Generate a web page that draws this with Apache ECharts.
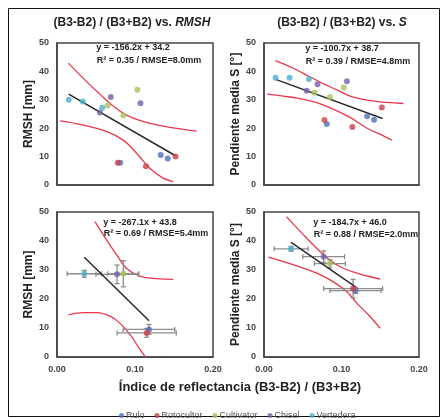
<!DOCTYPE html>
<html><head><meta charset="utf-8">
<script src="https://cdn.jsdelivr.net/npm/echarts@6/dist/echarts.min.js"></script>
<style>html,body{margin:0;padding:0;background:#fff}#c{width:444px;height:420px}</style>
</head><body><div id="c"></div>
<script>
// ---------- data ----------
const treatments = ['Rulo', 'Rotocultor', 'Cultivator', 'Chisel', 'Vertedera'];
const colors = ['#4F6FBD', '#C8404A', '#A7C05A', '#7E5FA8', '#4BB0CC'];

// index (B3-B2)/(B3+B2) of each plot, per treatment
const idxRulo = [0.081, 0.133, 0.142];
const idxRotocultor = [0.078, 0.114, 0.152];
const idxCultivator = [0.065, 0.085, 0.103];
const idxChisel = [0.055, 0.069, 0.107];
const idxVertedera = [0.015, 0.033, 0.058];

// RMSH [mm]
const rmshRulo = [7.8, 10.6, 9.3];
const rmshRotocultor = [7.8, 6.6, 10.0];
const rmshCultivator = [28.0, 24.5, 33.5];
const rmshChisel = [25.5, 31.0, 28.8];
const rmshVertedera = [30.0, 29.4, 27.2];

// Pendiente media S [deg]
const sRulo = [21.5, 24.2, 23.0];
const sRotocultor = [22.9, 20.4, 27.3];
const sCultivator = [32.5, 31.0, 34.3];
const sChisel = [33.2, 35.5, 36.5];
const sVertedera = [37.8, 37.8, 37.3];

// treatment means and their error bars (order of treatments)
const meanIdx = [0.118, 0.115, 0.085, 0.077, 0.035];
const errIdx = [0.033, 0.038, 0.020, 0.027, 0.022];
const meanRmsh = [9.5, 8.3, 28.7, 28.5, 28.7];
const errRmsh = [1.7, 1.5, 4.5, 3.2, 1.2];
const meanS = [22.9, 23.6, 32.2, 34.6, 37.3];
const errS = [1.0, 3.2, 1.4, 2.0, 0.8];

// regression lines (end points) and confidence curves
const trendTL = [[0.015, 32.0], [0.152, 10.3]];
const trendTR = [[0.015, 37.2], [0.153, 23.4]];
const trendBL = [[0.035, 34.4], [0.118, 12.5]];
const trendBR = [[0.035, 39.5], [0.119, 24.0]];

const upperTL = [[0.0145, 42.9], [0.038, 36.4], [0.055, 32.0], [0.072, 27.8], [0.089, 24.6], [0.111, 22.3], [0.141, 20.5], [0.179, 19.0]];
const lowerTL = [[0.004, 22.6], [0.034, 21.1], [0.064, 18.8], [0.085, 15.8], [0.102, 11.2], [0.119, 5.9], [0.136, 2.4], [0.149, 1.2]];
const upperTR = [[0.0146, 43.8], [0.038, 41.1], [0.059, 38.1], [0.077, 35.6], [0.094, 33.5], [0.111, 31.3], [0.133, 29.9], [0.158, 29.1], [0.180, 28.7]];
const lowerTR = [[0.004, 32.0], [0.025, 31.3], [0.046, 30.4], [0.068, 29.0], [0.089, 26.7], [0.111, 23.8], [0.133, 20.0], [0.154, 17.3], [0.165, 15.8]];
const upperBL = [[0.0487, 46.7], [0.0637, 40.3], [0.0765, 35.2], [0.089, 30.6], [0.106, 27.9], [0.128, 27.0], [0.149, 26.8]];
const lowerBL = [[0.0145, 14.5], [0.034, 15.3], [0.051, 15.3], [0.068, 14.1], [0.081, 11.6], [0.094, 7.6], [0.104, 3.6], [0.113, 0.1]];
const upperBR = [[0.029, 48.4], [0.051, 42.1], [0.068, 37.5], [0.085, 33.4], [0.102, 30.6], [0.124, 28.6], [0.150, 26.9]];
const lowerBR = [[0.0056, 34.4], [0.025, 32.9], [0.046, 31.1], [0.068, 28.9], [0.089, 26.0], [0.107, 22.5], [0.120, 18.5], [0.135, 14.5], [0.150, 9.9]];

const xTicks = ['0.00', '0.10', '0.20'];
const yTicks = [0, 10, 20, 30, 40, 50];

// ---------- chart ----------
const FONT = 'Liberation Sans, Arial, sans-serif';
const idxArr = [idxRulo, idxRotocultor, idxCultivator, idxChisel, idxVertedera];
const rmshArr = [rmshRulo, rmshRotocultor, rmshCultivator, rmshChisel, rmshVertedera];
const sArr = [sRulo, sRotocultor, sCultivator, sChisel, sVertedera];

const grids = [
  {left: 57, top: 43, width: 156, height: 142},
  {left: 264, top: 43, width: 155, height: 142},
  {left: 57, top: 212, width: 156, height: 145},
  {left: 264, top: 212, width: 155, height: 145}
].map(g => Object.assign(g, {show: true, borderColor: '#444', borderWidth: 1.5, backgroundColor: '#fff'}));

const xAxes = grids.map((g, i) => ({
  type: 'value', gridIndex: i, min: 0, max: 0.2, interval: 0.1,
  axisLine: {show: true, lineStyle: {color: '#444', width: 1.5}},
  axisTick: {show: false}, splitLine: {show: false},
  axisLabel: {show: i >= 2, margin: 8, fontFamily: FONT, fontWeight: 'bold', fontSize: 9, color: '#444',
    formatter: v => xTicks[Math.round(v * 10)]}
}));
const yNames = ['RMSH [mm]', 'Pendiente media S [°]', 'RMSH [mm]', 'Pendiente media S [°]'];
const yAxes = grids.map((g, i) => ({
  type: 'value', gridIndex: i, min: yTicks[0], max: yTicks[yTicks.length - 1], interval: 10,
  name: yNames[i], nameLocation: 'middle', nameRotate: 90, nameGap: i % 2 ? 22 : 21,
  nameTextStyle: {fontFamily: FONT, fontWeight: 'bold', fontSize: 12, color: '#222'},
  axisLine: {show: true, lineStyle: {color: '#444', width: 1.5}},
  axisTick: {show: false}, splitLine: {show: false},
  axisLabel: {margin: 8, fontFamily: FONT, fontWeight: 'bold', fontSize: 9, color: '#444'}
}));

function errRender(params, api) {
  const x = api.value(0), y = api.value(1), ex = api.value(2), ey = api.value(3);
  const l = api.coord([x - ex, y]), r = api.coord([x + ex, y]);
  const t = api.coord([x, y + ey]), b = api.coord([x, y - ey]);
  const c = 2.5;
  const st = {stroke: '#8c8c8c', lineWidth: 1.3};
  const ln = (x1, y1, x2, y2) => ({type: 'line', shape: {x1, y1, x2, y2}, style: st});
  return {type: 'group', children: [
    ln(l[0], l[1], r[0], r[1]), ln(l[0], l[1] - c, l[0], l[1] + c), ln(r[0], r[1] - c, r[0], r[1] + c),
    ln(t[0], t[1], b[0], b[1]), ln(t[0] - c, t[1], t[0] + c, t[1]), ln(b[0] - c, b[1], b[0] + c, b[1])
  ]};
}

const series = [];
function addBands(gi, up, lo, trend) {
  [up, lo].forEach(d => series.push({type: 'line', xAxisIndex: gi, yAxisIndex: gi, data: d, smooth: 0.4,
    symbol: 'none', lineStyle: {color: '#E8384A', width: 1.3}, silent: true, z: 2}));
  series.push({type: 'line', xAxisIndex: gi, yAxisIndex: gi, data: trend, symbol: 'none',
    lineStyle: {color: '#2a2a2a', width: 1.5}, silent: true, z: 3});
}
addBands(0, upperTL, lowerTL, trendTL);
addBands(1, upperTR, lowerTR, trendTR);
addBands(2, upperBL, lowerBL, trendBL);
addBands(3, upperBR, lowerBR, trendBR);

// individual plots
treatments.forEach((t, k) => {
  series.push({name: t, type: 'scatter', xAxisIndex: 0, yAxisIndex: 0, symbolSize: 6,
    itemStyle: {color: colors[k]}, z: 4, data: idxArr[k].map((x, j) => [x, rmshArr[k][j]])});
  series.push({name: t, type: 'scatter', xAxisIndex: 1, yAxisIndex: 1, symbolSize: 6,
    itemStyle: {color: colors[k]}, z: 4, data: idxArr[k].map((x, j) => [x, sArr[k][j]])});
});
// error bars for means
series.push({type: 'custom', xAxisIndex: 2, yAxisIndex: 2, renderItem: errRender, encode: {x: 0, y: 1}, z: 3,
  data: treatments.map((t, k) => [meanIdx[k], meanRmsh[k], errIdx[k], errRmsh[k]])});
series.push({type: 'custom', xAxisIndex: 3, yAxisIndex: 3, renderItem: errRender, encode: {x: 0, y: 1}, z: 3,
  data: treatments.map((t, k) => [meanIdx[k], meanS[k], errIdx[k], errS[k]])});
treatments.forEach((t, k) => {
  series.push({name: t, type: 'scatter', xAxisIndex: 2, yAxisIndex: 2, symbolSize: 6,
    itemStyle: {color: colors[k]}, z: 4, data: [[meanIdx[k], meanRmsh[k]]]});
  series.push({name: t, type: 'scatter', xAxisIndex: 3, yAxisIndex: 3, symbolSize: 6,
    itemStyle: {color: colors[k]}, z: 4, data: [[meanIdx[k], meanS[k]]]});
});

const txt = (x, y, text, size, extra) => ({type: 'text', x, y, z: 10,
  style: Object.assign({text, fontFamily: FONT, fontWeight: 'bold', fontSize: size, fill: '#222',
    textAlign: 'center', textVerticalAlign: 'middle', align: 'center', verticalAlign: 'middle'}, extra || {})});

const chart = echarts.init(document.getElementById('c'), null, {renderer: 'canvas'});
chart.setOption({
  animation: false,
  backgroundColor: '#fff',
  grid: grids, xAxis: xAxes, yAxis: yAxes, series,
  legend: {data: treatments, left: 114, top: 406, icon: 'circle', itemWidth: 5, itemHeight: 5, itemGap: 10,
    textStyle: {fontFamily: FONT, fontSize: 9, color: '#555', padding: [0, 0, 0, -3]}},
  graphic: [
    {type: 'rect', shape: {x: 8.5, y: 8.5, width: 431, height: 408}, style: {fill: 'none', stroke: '#111', lineWidth: 1}, z: 0, silent: true},
    txt(132, 23, '(B3-B2) / (B3+B2) vs. {i|RMSH}', 12, {rich: {i: {fontStyle: 'italic', fontWeight: 'bold', fontSize: 12, fontFamily: FONT, fill: '#222'}}}),
    txt(342, 23, '(B3-B2) / (B3+B2) vs. {i|S}', 12, {rich: {i: {fontStyle: 'italic', fontWeight: 'bold', fontSize: 12, fontFamily: FONT, fill: '#222'}}}),
    txt(133, 48, 'y = -156.2x + 34.2', 9),
    txt(149, 61, 'R² = 0.35 / RMSE=8.0mm', 9),
    txt(342, 49, 'y = -100.7x + 38.7', 9),
    txt(358, 62, 'R² = 0.39 / RMSE=4.8mm', 9),
    txt(140, 223, 'y = -267.1x + 43.8', 9),
    txt(156, 234, 'R² = 0.69 / RMSE=5.4mm', 9),
    txt(350, 223, 'y = -184.7x + 46.0', 9),
    txt(366, 235, 'R² = 0.88 / RMSE=2.0mm', 9),
    txt(240, 387, 'Índice de reflectancia (B3-B2) / (B3+B2)', 13)
  ]
});
</script></body></html>
